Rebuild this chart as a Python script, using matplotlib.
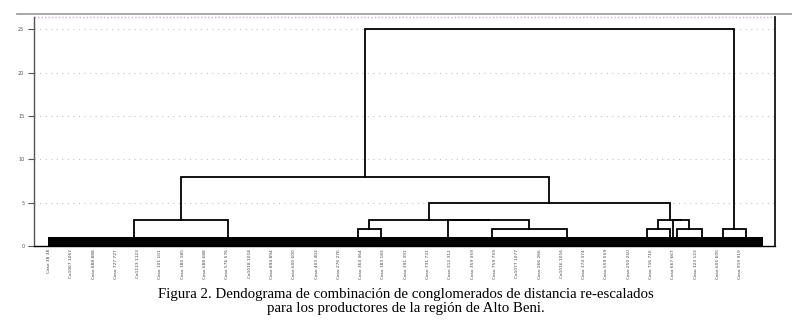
import matplotlib
matplotlib.use("Agg")
from matplotlib import pyplot as plt
from matplotlib.lines import Line2D

# Etiquetas de casos (eje x)
casos = ['Caso 38 38', 'Ca1067 1067', 'Caso 888 888', 'Caso 727 727', 'Ca1123 1123',
         'Caso 101 101', 'Caso 185 185', 'Caso 688 688', 'Caso 576 576', 'Ca1018 1018',
         'Caso 894 894', 'Caso 600 600', 'Caso 403 403', 'Caso 276 276', 'Caso 364 364',
         'Caso 183 183', 'Caso 391 391', 'Caso 731 731', 'Caso 312 312', 'Caso 359 359',
         'Caso 759 759', 'Ca1077 1077', 'Caso 266 266', 'Ca1016 1016', 'Caso 374 374',
         'Caso 559 559', 'Caso 250 250', 'Caso 716 716', 'Caso 667 667', 'Caso 123 123',
         'Caso 605 605', 'Caso 919 919']

# grupos base (fusionados a distancia ~1) y su posicion sobre el eje de casos
grupos_pos = [3.81, 8.03, 13.86, 14.89, 17.89, 19.87, 23.23,
              26.82, 27.85, 27.98, 28.16, 29.28, 30.22, 31.26]
altura_base = 1.05

# fusiones: (nodo a, nodo b, distancia re-escalada)
fus_a = [0, 2, 5, 4, 15, 7, 10, 9, 19, 18, 14, 12, 24]
fus_b = [1, 3, 6, 16, 17, 8, 11, 20, 21, 22, 23, 13, 25]
fus_h = [3, 2, 2, 3, 3, 2, 2, 3, 3, 5, 8, 2, 25]

yticks = [0, 5, 10, 15, 20, 25]

fig = plt.figure(figsize=(7.92, 3.2), dpi=100)
ax = fig.add_axes([34 / 792, 74 / 320, 741 / 792, 229 / 320])

# barra negra de los casos fusionados a baja distancia
ax.fill_between([-0.05, len(casos)], 0, altura_base, color='black', lw=0, zorder=3)

xs = list(grupos_pos)
hs = [altura_base] * len(grupos_pos)
for a, b, h in zip(fus_a, fus_b, fus_h):
    ax.plot([xs[a], xs[a], xs[b], xs[b]], [hs[a], h, h, hs[b]],
            color='black', lw=1.3, solid_joinstyle='miter', zorder=4)
    xs.append((xs[a] + xs[b]) / 2)
    hs.append(h)

ax.set_xlim(-0.67, 32.56)
ax.set_ylim(0, 26.4)

for y in yticks[1:]:
    ax.axhline(y, color='#c8bfcc', lw=0.8, ls=(0, (1, 4)), zorder=1)
ax.axhline(26.4, color='#d4a8d8', lw=1.0, ls=(0, (1, 1.5)), zorder=1, clip_on=False)

ax.set_yticks(yticks)
ax.set_yticklabels([str(v) for v in yticks], fontsize=3.5, color='#555555')
ax.tick_params(axis='y', length=4, width=0.8, color='#555555', pad=3)

ax.set_xticks(range(len(casos)))
ax.set_xticklabels(casos, rotation=90, fontsize=3.2, color='#444444', va='top')
ax.tick_params(axis='x', length=0, pad=2)

ax.spines['top'].set_visible(False)
ax.spines['left'].set_color('#555555')
ax.spines['left'].set_linewidth(1.0)
ax.spines['right'].set_linewidth(1.2)
ax.spines['bottom'].set_linewidth(1.0)

# linea gris superior
fig.add_artist(Line2D([17 / 792, 1.0], [306 / 320, 306 / 320], color='#999999', lw=1.2))

fig.text(406 / 792, 18.5 / 320,
         'Figura 2. Dendograma de combinación de conglomerados de distancia re-escalados\n'
         'para los productores de la región de Alto Beni.',
         ha='center', va='center', fontsize=10.7, family='Liberation Serif', linespacing=1.1)

fig.savefig('out.png', dpi=100)
